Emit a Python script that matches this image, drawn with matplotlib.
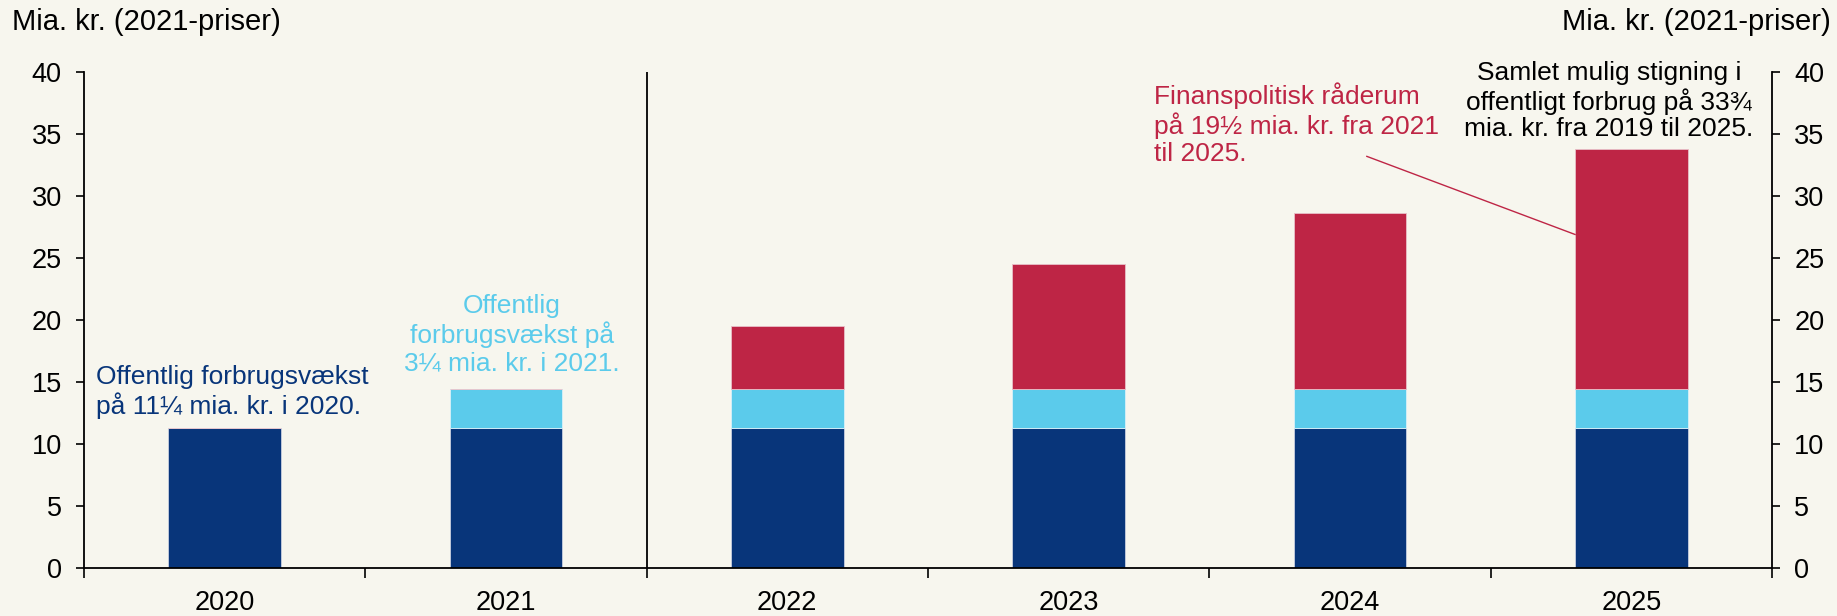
import numpy as np
import matplotlib.pyplot as plt

plt.rcParams['font.family'] = ['Liberation Sans', 'DejaVu Sans']

years = ['2020', '2021', '2022', '2023', '2024', '2025']
vaekst_2020 = [11.25, 11.25, 11.25, 11.25, 11.25, 11.25]
vaekst_2021 = [0, 3.2, 3.2, 3.2, 3.2, 3.2]
raaderum = [0, 0, 5.05, 10.05, 14.15, 19.35]
yticks = [0, 5, 10, 15, 20, 25, 30, 35, 40]

c_dark = '#08357a'
c_light = '#5bcbeb'
c_red = '#be2545'
bg = '#f7f6ee'

fig = plt.figure(figsize=(18.37, 6.16), dpi=100, facecolor=bg)
ax = fig.add_axes([0.0457, 0.078, 0.9189, 0.805], facecolor=bg)

x = np.arange(len(years))
b1 = np.array(vaekst_2020)
b2 = np.array(vaekst_2021)
b3 = np.array(raaderum)
w = 0.4
ax.bar(x, b1, w, color=c_dark, edgecolor='#c8cfe0', linewidth=0.6)
ax.bar(x, b2, w, bottom=b1, color=c_light, edgecolor='#d9f0f8', linewidth=0.6)
ax.bar(x, b3, w, bottom=b1 + b2, color=c_red, edgecolor='#e8c0c8', linewidth=0.6)

ax.set_xlim(-0.5, 5.5)
ax.set_ylim(0, 40)
ax.axvline(1.5, color='black', lw=1.3)

ax.spines['top'].set_visible(False)
for s in ['left', 'right', 'bottom']:
    ax.spines[s].set_linewidth(1.3)

ax.set_yticks(yticks)
ax.tick_params(axis='y', which='both', left=True, right=True, labelleft=True,
               labelright=True, direction='out', length=6, width=1.2,
               pad=10, labelsize=19.5)
ax.set_xticks(np.arange(-0.5, 6, 1))
ax.set_xticklabels([])
ax.tick_params(axis='x', which='major', direction='out', length=7, width=1.2)
ax.set_xticks(x, minor=True)
ax.set_xticklabels(years, minor=True)
ax.tick_params(axis='x', which='minor', length=0, pad=16, labelsize=19.5)

fs = 19
ls = 1.15
ax.text(-0.457, 14.2, 'Offentlig forbrugsvækst\npå 11¼ mia. kr. i 2020.',
        color=c_dark, fontsize=fs, ha='left', va='center', linespacing=ls)
ax.text(1.02, 18.8, 'Offentlig\nforbrugsvækst på\n3¼ mia. kr. i 2021.',
        color=c_light, fontsize=fs, ha='center', va='center', linespacing=ls)
ax.text(3.305, 35.8, 'Finanspolitisk råderum\npå 19½ mia. kr. fra 2021\ntil 2025.',
        color=c_red, fontsize=fs, ha='left', va='center', linespacing=ls)
ax.text(4.92, 37.66, 'Samlet mulig stigning i\noffentligt forbrug på 33¾\nmia. kr. fra 2019 til 2025.',
        color='black', fontsize=fs, ha='center', va='center', linespacing=ls)
ax.plot([4.06, 4.80], [33.2, 26.9], color=c_red, lw=1.0)

fig.text(12 / 1837, 1 - 21.6 / 616, 'Mia. kr. (2021-priser)', fontsize=21,
         ha='left', va='center')
fig.text(1831 / 1837, 1 - 21.6 / 616, 'Mia. kr. (2021-priser)', fontsize=21,
         ha='right', va='center')

fig.savefig('out.png', dpi=100, facecolor=bg)
